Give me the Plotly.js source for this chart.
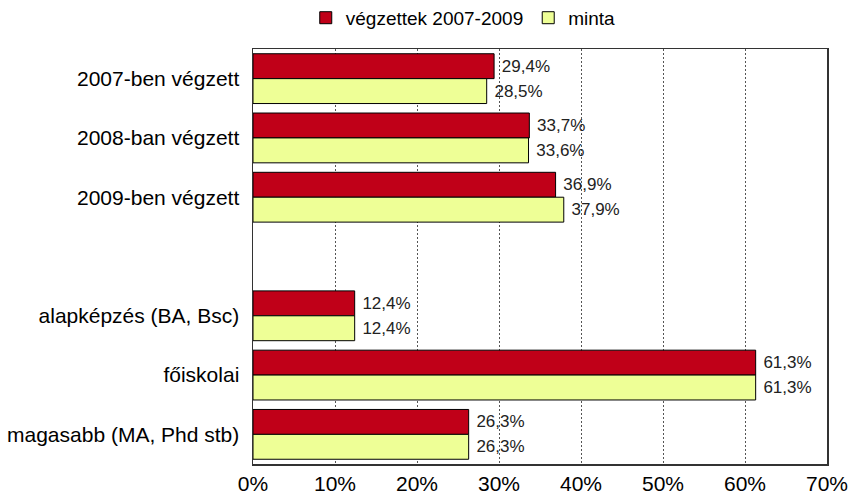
<!DOCTYPE html>
<html>
<head>
<meta charset="utf-8">
<script src="https://cdn.plot.ly/plotly-3.0.1.min.js"></script>
<style>html,body{margin:0;padding:0;background:#fff;}#chart{width:850px;height:496px;}</style>
</head>
<body>
<div id="chart"></div>
<script>
var categories = ["2007-ben végzett", "2008-ban végzett", "2009-ben végzett", " ", "alapképzés (BA, Bsc)", "főiskolai", "magasabb (MA, Phd stb)"];
var seriesNames = ["végzettek 2007-2009", "minta"];
var vegzettek = [29.4, 33.7, 36.9, null, 12.4, 61.3, 26.3];
var minta = [28.5, 33.6, 37.9, null, 12.4, 61.3, 26.3];
var xTicks = [0, 10, 20, 30, 40, 50, 60, 70];

var font = "Arial, 'Liberation Sans', sans-serif";
function trace(name, vals, color) {
  return {
    type: "bar", orientation: "h", name: name,
    y: categories, x: vals,
    marker: {color: color, line: {color: "#000", width: 1}},
    texttemplate: "\u00a0%{x:.1f}%", textposition: "outside",
    textfont: {family: font, size: 17, color: "#222"},
    cliponaxis: false, hoverinfo: "skip"
  };
}
var data = [trace(seriesNames[0], vegzettek, "rgb(192,0,24)"), trace(seriesNames[1], minta, "rgb(238,255,150)")];
var layout = {
  width: 850, height: 496,
  margin: {l: 253, r: 23, t: 49, b: 32, autoexpand: false},
  separators: ", ",
  barmode: "group", bargap: 0.16, bargroupgap: 0,
  paper_bgcolor: "#fff", plot_bgcolor: "#fff",
  font: {family: font, color: "#000"},
  showlegend: true,
  legend: {orientation: "h", xref: "container", x: 0.545, xanchor: "center", yref: "container", y: 0.964, yanchor: "middle",
           font: {family: font, size: 19, color: "#000"}, itemwidth: 30, traceorder: "normal", bgcolor: "rgba(0,0,0,0)"},
  xaxis: {range: [0, 70], tickvals: xTicks, ticktext: xTicks.map(function(t){return t + "%";}),
          showgrid: true, gridcolor: "#555", griddash: "2px,2px", gridwidth: 1,
          showline: true, mirror: true, linecolor: "#333", linewidth: 1.5,
          ticks: "", zeroline: false, tickfont: {family: font, size: 21, color: "#000"}, fixedrange: true},
  yaxis: {type: "category", categoryorder: "array", categoryarray: categories, autorange: "reversed",
          showline: true, mirror: true, linecolor: "#333", linewidth: 1.5, showgrid: false,
          ticks: "", ticklabelstandoff: 8, tickfont: {family: font, size: 21, color: "#000"}, fixedrange: true}
};
Plotly.newPlot("chart", data, layout, {displayModeBar: false, staticPlot: true});
</script>
</body>
</html>
